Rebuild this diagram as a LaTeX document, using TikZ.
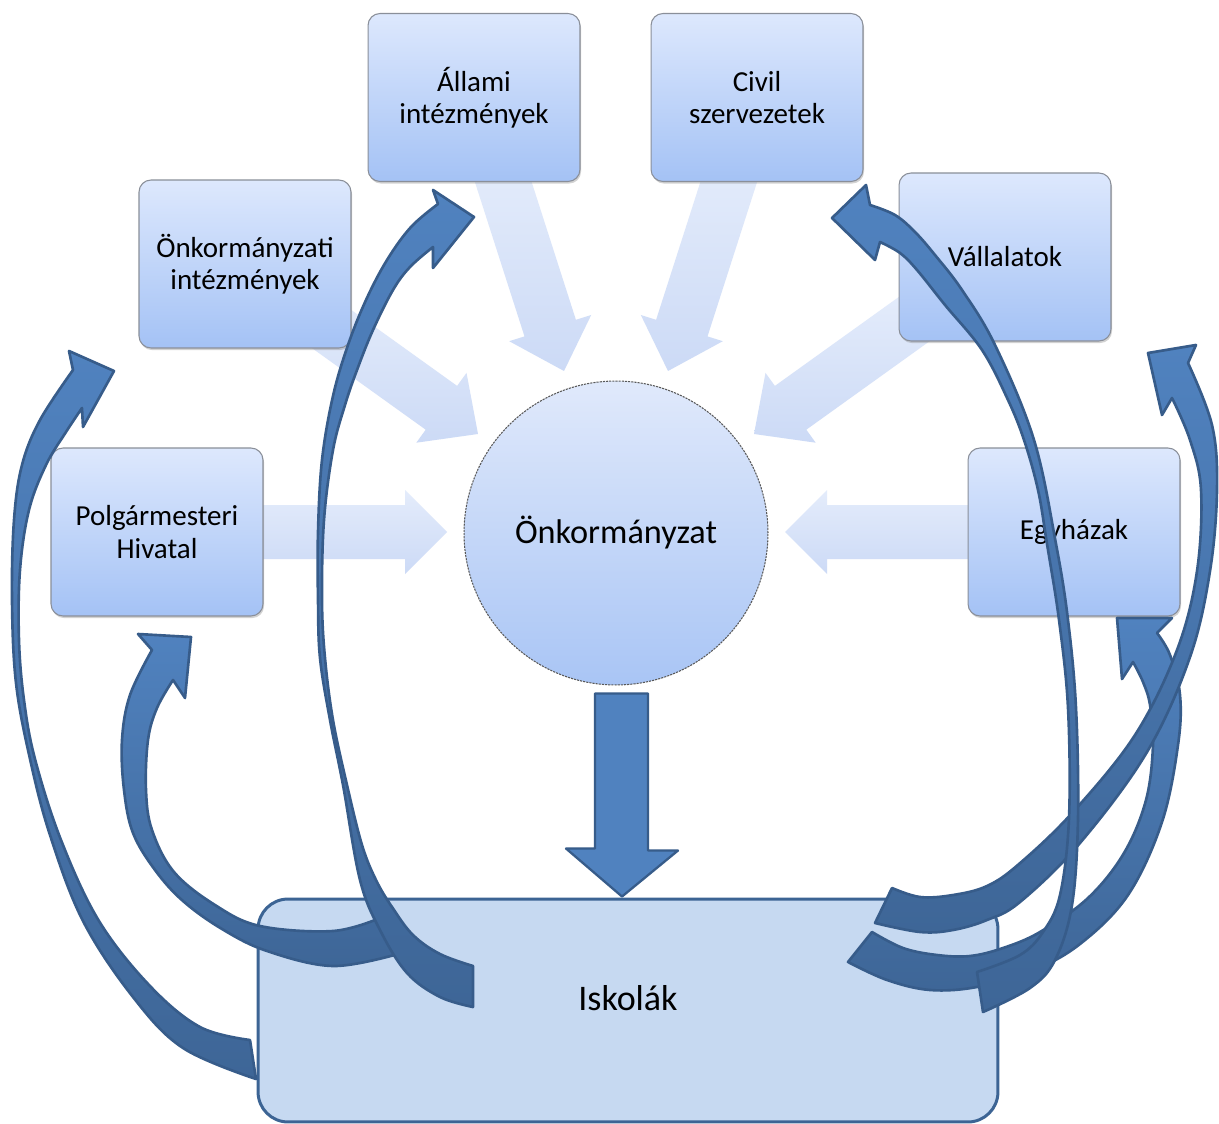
\documentclass[tikz,border=0pt]{standalone}
\usepackage{fontspec}
\setmainfont{Carlito}
\usetikzlibrary{shadows,calc}
\definecolor{boxtop}{HTML}{DDE8FD}
\definecolor{boxbot}{HTML}{A4C2F5}
\definecolor{boxline}{HTML}{8A8F99}
\definecolor{lightA}{HTML}{E4ECFB}
\definecolor{lightB}{HTML}{CCDAF6}
\definecolor{hubtop}{HTML}{E0E9FB}
\definecolor{hubbot}{HTML}{A9C5F5}
\definecolor{darkfill}{HTML}{5082BF}
\definecolor{darkfillb}{HTML}{3E6697}
\definecolor{darkline}{HTML}{375C8A}
\definecolor{iskfill}{HTML}{C6D9F1}
\definecolor{iskline}{HTML}{3C6494}
\begin{document}
\begin{tikzpicture}[x=0.02cm, y=-0.02cm,
  box/.style={rectangle, rounded corners=0.24cm, minimum width=4.24cm, minimum height=3.36cm,
    top color=boxtop, bottom color=boxbot, draw=boxline, line width=0.6pt, align=center,
    font=\fontsize{16.5}{18.5}\selectfont,
    drop shadow={shadow xshift=0.6pt, shadow yshift=-1.2pt, opacity=0.35}},
  hub/.style={circle, minimum size=6.08cm, inner sep=0pt, top color=hubtop, bottom color=hubbot,
    draw=black!65, dash pattern=on 1.2pt off 0.6pt, line width=0.6pt,
    font=\fontsize{19.5}{22}\selectfont},
  school/.style={rectangle, rounded corners=0.6cm, minimum width=14.8cm, minimum height=4.46cm,
    fill=iskfill, draw=iskline, line width=1.7pt},
  lightarr/.style={top color=lightA, bottom color=lightB, draw=none},
  curv/.style={draw=darkline, line width=1.5pt, line join=round, top color=darkfill, bottom color=darkfillb},
  downarr/.style={fill=darkfill, draw=darkline, line width=1.3pt, line join=round}]
\useasboundingbox (0,0) rectangle (1219,1124);
\fill[white] (0,0) rectangle (1219,1124);

% light arrows toward the hub
\path[lightarr] (250,505) -- (405,505) -- (405,490) -- (447,532) -- (405,574) -- (405,559) -- (250,559) -- cycle;
\path[lightarr] (980,505) -- (827,505) -- (827,490) -- (785,532) -- (827,574) -- (827,559) -- (980,559) -- cycle;
\path[lightarr] (295.7,336.4) -- (425.7,429.7) -- (416.3,442.7) -- (478,434) -- (466.5,372.9) -- (457.1,385.9) -- (327.1,292.6) -- cycle;
\path[lightarr] (936.3,336.4) -- (806.3,429.7) -- (815.7,442.7) -- (754,434) -- (765.5,372.9) -- (774.9,385.9) -- (904.9,292.6) -- cycle;
\path[lightarr] (472.5,174.5) -- (524.5,336.4) -- (509.2,341.2) -- (564,371) -- (591.2,315) -- (575.9,319.8) -- (523.9,157.9) -- cycle;
\path[lightarr] (759.5,174.5) -- (707.5,336.4) -- (722.8,341.2) -- (668,371) -- (640.8,315) -- (656.1,319.8) -- (708.1,157.9) -- cycle;

% boxes
\node[box] (onkint) at (245,264) {Önkormányzati\\intézmények};
\node[box] (allami) at (474,97.5) {Állami\\intézmények};
\node[box] (civil) at (757,97.5) {Civil\\szervezetek};
\node[box] (vall) at (1005,257) {Vállalatok};
\node[box] (polg) at (157,532) {Polgármesteri\\Hivatal};
\node[box] (egyh) at (1074,532) {Egyházak};
\node[hub] (onk) at (616,533) {Önkormányzat};

% schools
\node[school] (isk) at (628,1010.5) {};
\node[font=\fontsize{20.5}{24}\selectfont] (iskt) at (628,998) {Iskolák};

% down arrow hub -> schools
\draw[downarr] ($(onk.south)+(-21,8)$) -- ++(53,0) -- ++(0,157) -- ++(30,0)
  -- ($(isk.north)+(-6,-1)$) -- ++(-56,-48) -- ++(29,0) -- cycle;

% curved arrows from the schools
\path[curv] plot[smooth, tension=0.6] coordinates {(256,1079) (183,1048) (133,997) (83,921) (50,835) (30,759) (16,683) (12,600) (14,520) (22,465) (40,420) (73,370)}
  -- (69,351) -- (114,371) -- (83,427)
  -- plot[smooth, tension=0.6] coordinates {(82,408) (66,432) (46,465) (29,510) (20,570) (19,640) (24,700) (35,759) (61,840) (99,921) (150,986) (200,1027) (250,1040)} -- cycle;

\path[curv] plot[smooth, tension=0.6] coordinates {(398,954) (333,966) (267,951) (222,929) (183,901) (155,870) (133,833) (124,790) (122,740) (130,695) (152,650)}
  -- (138,634) -- (191,637) -- (185,698)
  -- plot[smooth, tension=0.6] coordinates {(173,680) (157,708) (148,740) (146,790) (152,830) (174,872) (215,905) (260,926) (333,931) (380,918)} -- cycle;

\path[curv] plot[smooth, tension=0.6] coordinates {(473,1007) (440,997) (407,973) (380,930) (360,880) (343,785) (330,720) (320,658) (318,600) (318,532) (322,460) (333,396) (348,345) (366,300) (387,260) (411,227) (438,204)}
  -- (433,190) -- (474,217) -- (433,268)
  -- plot[smooth, tension=0.6] coordinates {(433,247) (410,267) (393,290) (373,330) (357,370) (345,405) (333,450) (324,520) (322,600) (325,658) (333,720) (347,785) (362,845) (376,880) (392,907) (413,935) (440,954) (473,966)} -- cycle;

\path[curv] plot[smooth, tension=0.6] coordinates {(848,962) (887,980) (930,990) (977,987) (1030,972) (1080,944) (1128,895) (1162,822) (1178,745) (1180,695) (1170,655) (1157,633)}
  -- (1172,618) -- (1117,618) -- (1122,679)
  -- plot[smooth, tension=0.6] coordinates {(1133,662) (1143,682) (1150,705) (1153,745) (1146,800) (1124,853) (1088,898) (1040,932) (1003,948) (970,956) (937,955) (903,948) (872,932)} -- cycle;

\path[curv] plot[smooth, tension=0.6] coordinates {(875,923) (920,932) (953,930) (987,920) (1020,902) (1080,843) (1147,752) (1190,657) (1210,571) (1217,489) (1212,425) (1188,363)}
  -- (1196,345) -- (1148,353) -- (1162,415)
  -- plot[smooth, tension=0.6] coordinates {(1172,398) (1190,440) (1201,490) (1197,571) (1177,650) (1135,735) (1073,812) (1019,864) (987,886) (953,895) (920,897) (892,888)} -- cycle;

\path[curv] plot[smooth, tension=0.6] coordinates {(983,1012) (1030,988) (1055,960) (1072,905) (1078,818) (1076,708) (1068,620) (1056,544) (1034,440) (995,345) (962,290) (935,255) (915,232) (895,215) (870,205)}
  -- (866,185) -- (832,218) -- (875,260)
  -- plot[smooth, tension=0.6] coordinates {(880,242) (900,253) (917,270) (945,305) (982,350) (1008,400) (1024,440) (1038,490) (1047,544) (1059,620) (1068,708) (1069,818) (1060,895) (1043,932) (1020,955) (977,972)} -- cycle;
\end{tikzpicture}
\end{document}
